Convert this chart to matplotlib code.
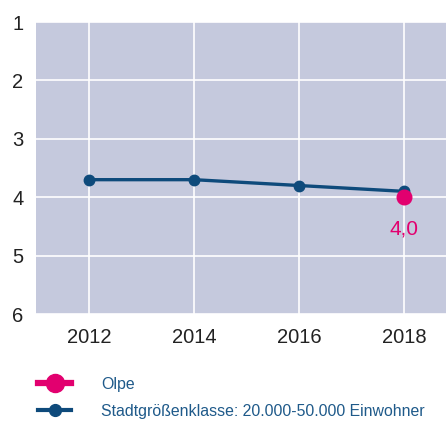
import matplotlib
matplotlib.use("Agg")
import matplotlib.pyplot as plt
from matplotlib.lines import Line2D

plt.rcParams["font.family"] = ["Liberation Sans", "DejaVu Sans"]

# ── Data ────────────────────────────────────────────────────────────────
years = [2012, 2014, 2016, 2018]
klasse_values = [3.7, 3.7, 3.8, 3.9]
olpe_years = [2018]
olpe_values = [4.0]
olpe_label = "4,0"
y_ticks = [1, 2, 3, 4, 5, 6]

BG = "#c5c9dd"
BLUE = "#0e4a7b"
PINK = "#e2006f"

fig = plt.figure(figsize=(4.46, 4.21), dpi=100)
ax = fig.add_axes([36 / 446, 1 - 314 / 421, 1 - 36 / 446, (314 - 22) / 421])
ax.set_facecolor(BG)

ax.plot(years, klasse_values, color=BLUE, linewidth=2.4, marker="o",
        markersize=7.5, zorder=3)
ax.plot(olpe_years, olpe_values, color=PINK, linestyle="none", marker="o",
        markersize=10.5, zorder=4)
ax.text(olpe_years[0], olpe_values[0] + 0.55, olpe_label, color=PINK,
        fontsize=15, ha="center", va="center")

ax.set_xlim(2010.99, 2018.8)
ax.set_ylim(6, 1)
ax.set_xticks(years)
ax.set_yticks(y_ticks)
ax.grid(True, color="white", linewidth=1.2)
ax.set_axisbelow(True)
for s in ax.spines.values():
    s.set_visible(False)
ax.tick_params(length=0, labelsize=14.5, colors="#222222")
ax.tick_params(axis="y", pad=9)
ax.tick_params(axis="x", pad=10)

handles = [
    Line2D([], [], color=PINK, linewidth=4.5, marker="o", markersize=13),
    Line2D([], [], color=BLUE, linewidth=3, marker="o", markersize=8.5),
]
labels = ["Olpe", "Stadtgrößenklasse: 20.000-50.000 Einwohner"]
leg = fig.legend(handles, labels, loc="upper left",
                 bbox_to_anchor=(38 / 446, 1 - 377 / 421), frameon=False,
                 borderpad=0, borderaxespad=0,
                 fontsize=11.4, handlelength=2.1, handletextpad=1.9,
                 labelspacing=0.75)
for t in leg.get_texts():
    t.set_color("#1f5a8a")

fig.savefig("out.png", dpi=100)
